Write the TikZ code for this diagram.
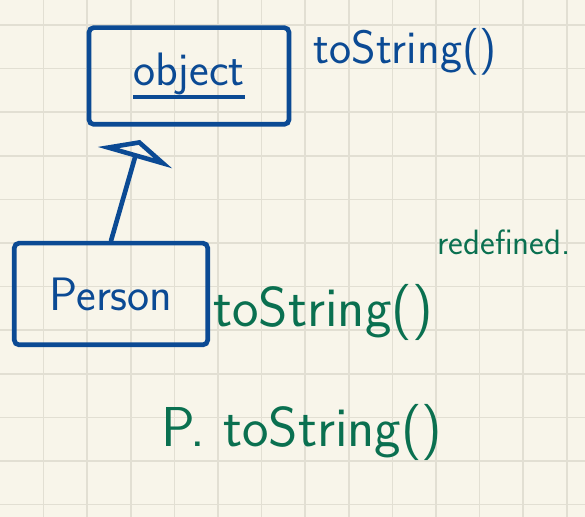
\documentclass[tikz,border=0pt]{standalone}
\usepackage{fontspec}
\usetikzlibrary{arrows.meta, positioning}
\definecolor{paper}{HTML}{F8F5EA}
\definecolor{gridline}{HTML}{E2DFD3}
\definecolor{ink}{HTML}{0B4A94}
\definecolor{pen}{HTML}{0A7050}
\newcommand{\penline}[1]{\setbox0\hbox{#1}\leavevmode\rlap{\raisebox{-0.3em}{\rule{\wd0}{0.09em}}}\box0}

\begin{document}
\begin{tikzpicture}[
    x = 0.03cm, y = -0.03cm,
    line width = 1.4mm,
    classbox/.style  = {draw=ink, rounded corners=4pt, align=center, text=ink,
                        font=\sffamily\fontsize{40}{44}\selectfont},
    inherit/.style   = {-{Triangle[open, length=5.5mm, width=23mm]}, draw=ink, line cap=round},
    bluenote/.style  = {text=ink, font=\sffamily\fontsize{40}{44}\selectfont},
    greennote/.style = {text=pen, font=\sffamily\fontsize{48}{52}\selectfont},
    smallnote/.style = {text=pen, font=\sffamily\fontsize{30}{34}\selectfont},
]

% --------------------------------------------- paper ---------------------------------------------
\fill[paper] (0,0) rectangle (585,517);
\useasboundingbox (0,0) rectangle (585,517);
\foreach \gx in {1,...,13}
    \draw[gridline, line width=1.5pt] (\gx*43.6,0) -- (\gx*43.6,517);
\foreach \gy in {0,...,11}
    \draw[gridline, line width=1.5pt] (0,25+\gy*43.6) -- (585,25+\gy*43.6);

% --------------------------------------------- classes -------------------------------------------
\node[classbox, minimum width=6cm, minimum height=2.9cm]    (object) at (189,76) {\penline{object}};
\node[classbox, minimum width=5.8cm, minimum height=3.05cm] (person) at (111,294) {Person};

% --------------------------------------------- methods -------------------------------------------
\node[bluenote]  (objstr) at (405,52)  {toString()};
\node[greennote] (perstr) at (323,312) {toString()};
\node[smallnote] (redef)  at (504,242) {redefined.};
\node[greennote] (call)   at (302,432) {P. toString()};

% --------------------------------------------- arrows --------------------------------------------
\coordinate (tip) at (140,140);
\draw[inherit] (person.north) -- (tip);

\end{tikzpicture}
\end{document}
